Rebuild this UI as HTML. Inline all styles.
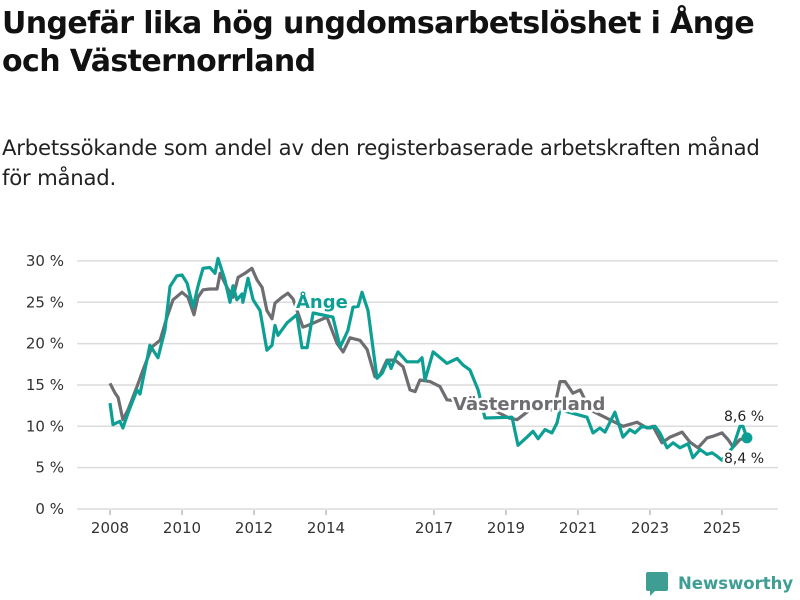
<!DOCTYPE html>
<html><head><meta charset="utf-8">
<style>
body{margin:0;background:#fff;font-family:"Liberation Sans","DejaVu Sans",sans-serif;}
#wrap{position:relative;width:800px;height:600px;overflow:hidden;}
h1{position:absolute;left:2px;top:5px;margin:0;font-size:30px;line-height:38px;font-weight:bold;color:#111;font-family:"DejaVu Sans","Liberation Sans",sans-serif;letter-spacing:-0.6px;}
p.sub{position:absolute;left:2px;top:133px;margin:0;font-size:21.2px;line-height:30px;color:#222;font-family:"DejaVu Sans","Liberation Sans",sans-serif;letter-spacing:-0.2px;}
</style></head><body>
<div id="wrap">
<h1>Ungefär lika hög ungdomsarbetslöshet i Ånge<br>och Västernorrland</h1>
<p class="sub">Arbetssökande som andel av den registerbaserade arbetskraften månad<br>för månad.</p>
<svg id="chart" width="800" height="600" style="position:absolute;left:0;top:0"></svg>
</div>
<script>
const yTicks=[0,5,10,15,20,25,30];
const xYears=[2008,2010,2012,2014,2017,2019,2021,2023,2025];
const angeMonths=[0,1,3.3,4.3,6,9,10,13.3,16,18.3,20,22.3,24,25.7,27.7,29.3,31,33.3,35,36,38.3,40,41,42.3,44,44.3,46,47.7,50,52.3,54,55,56,59,62.3,64,65.7,67.7,74.3,76.7,78.3,79.3,81,82.7,84,86,89,90.7,92.7,93.7,95,96,99,102.7,104,105,107.7,112.3,115.7,117.7,120,122.7,125,134,136,139,141,142.7,145,147.3,149,150,155,159,161,163.3,165,168.3,171,173.3,175,177.3,180,181.7,183.3,185.7,187.7,190,192.7,194.3,196.7,199,200.7,202.3,204,207.7,210,211,212.3];
const angeValues=[12.8,10.2,10.6,9.8,11.6,14.4,13.9,19.8,18.3,21.6,26.9,28.2,28.3,27.3,24.4,26.9,29.1,29.2,28.5,30.3,27.7,25,27,25.3,26,25,27.9,25.3,24,19.2,19.8,22.2,21,22.5,23.5,19.5,19.5,23.7,23.2,19.6,20.8,21.6,24.4,24.5,26.2,24,15.8,16.4,18,17,18.2,19,17.8,17.8,18.3,15.6,19,17.6,18.2,17.4,16.8,14.4,11,11.1,7.7,8.7,9.4,8.5,9.6,9.2,10.4,12,11.5,11.1,9.2,9.8,9.3,11.7,8.7,9.6,9.2,10,9.8,10,9.2,7.4,8,7.4,7.9,6.2,7.2,6.6,6.8,6.4,5.9,7.5,10,10,8.6];
const vnMonths=[0,1.7,2.7,4.3,6,9,11,14,16.7,19,21,24,26,28,29.3,31,33.3,35.7,36.7,39,41,42.7,45,47.3,49,50.7,52.3,54,55,57.3,59.3,61,64.3,66,72.3,75.7,77.7,80,83.3,85.7,88.3,90,92.3,95,97.7,100,101.7,103.3,106.7,110,112.3,118,125,133,135.7,140,148,150,151.7,154.3,156.7,160,171,175.7,179,181,184,186.7,190.7,193.3,196,199,201,204,206,207.7,210,212.3];
const vnValues=[15.2,14,13.5,10.8,12,14.8,16.8,19.6,20.4,23.2,25.3,26.2,25.6,23.5,25.6,26.5,26.6,26.6,28.5,26.8,25.6,28,28.5,29.1,27.7,26.8,24,23,24.9,25.6,26.1,25.4,22,22.2,23.2,20,19,20.7,20.4,19.3,16,16.2,18,18,17.2,14.4,14.2,15.6,15.4,14.8,13.2,13,12.5,11,10.8,12,12,15.4,15.4,14,14.4,12,10,10.5,9.8,10,8,8.7,9.3,8.1,7.4,8.6,8.8,9.2,8.4,7.5,8.4,8.6];
const NS='http://www.w3.org/2000/svg';
const svg=document.getElementById('chart');
const xM=m=>110+m*3;
const xY=y=>110+(y-2008)*36;
const yV=v=>509-v*8.27;
function el(t,a,txt){const e=document.createElementNS(NS,t);for(const k in a)e.setAttribute(k,a[k]);if(txt!==undefined)e.textContent=txt;svg.appendChild(e);return e;}
yTicks.forEach(v=>{
 const g=el('line',{x1:77,x2:778,y1:yV(v),y2:yV(v),stroke:'#dcdcdc','stroke-width':1.5});
 
 
 const t=el('text',{x:64,y:yV(v)+5,'text-anchor':'end','font-size':15,fill:'#333','font-family':'DejaVu Sans, Liberation Sans, sans-serif'},v+' %');
 
 
});
xYears.forEach(y=>{
 const tk=el('line',{x1:xY(y),x2:xY(y),y1:510,y2:515,stroke:'#999','stroke-width':1});
 
 
 const t=el('text',{x:xY(y),y:533,'text-anchor':'middle','font-size':15,fill:'#333','font-family':'DejaVu Sans, Liberation Sans, sans-serif'},String(y));
 
 
});
function path(ms,vs){return ms.map((m,i)=>(i?'L':'M')+xM(m).toFixed(1)+','+yV(vs[i]).toFixed(1)).join('');}
const pv=el('path',{d:path(vnMonths,vnValues),fill:'none',stroke:'#6e6d72','stroke-width':3.2,'stroke-linejoin':'round'});


const pa=el('path',{d:path(angeMonths,angeValues),fill:'none',stroke:'#0d9f94','stroke-width':3.2,'stroke-linejoin':'round'});


const last=angeMonths.length-1;
const dot=el('circle',{cx:xM(angeMonths[last]),cy:yV(angeValues[last]),r:5.5,fill:'#0d9f94'});


function label(x,y,txt,fill,size,weight,name){
 const t=el('text',{x:x,y:y,'font-size':size,'font-weight':weight,fill:fill,stroke:'#fff','stroke-width':5,'paint-order':'stroke','stroke-linejoin':'round','font-family':'DejaVu Sans, Liberation Sans, sans-serif'},txt);
 
 
}
label(296,308,'Ånge','#0d9f94',18,'bold','ange-series-label');
label(453,410,'Västernorrland','#6e6d72',18,'bold','vasternorrland-series-label');
label(724,421,'8,6 %','#222',14,'normal','ange-last-value');
label(724,463,'8,4 %','#222',14,'normal','vasternorrland-last-value');
const lg=el('rect',{x:646,y:572,width:22,height:19,rx:2,fill:'#3e9e94'});


const lgt=el('polygon',{points:'650,590 656,590 650,596',fill:'#3e9e94'});


const lt=el('text',{x:678,y:589,'font-size':16.5,fill:'#3e9e94','font-weight':'bold','font-family':'DejaVu Sans, Liberation Sans, sans-serif'},'Newsworthy');


</script>
</body></html>
